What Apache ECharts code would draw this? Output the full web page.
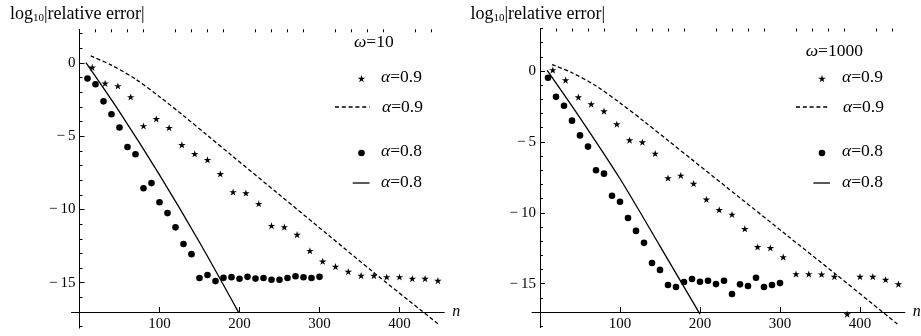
<!DOCTYPE html>
<html>
<head>
<meta charset="utf-8">
<script src="https://cdn.jsdelivr.net/npm/echarts@6/dist/echarts.min.js"></script>
<style>
  html, body { margin: 0; padding: 0; background: #fff; }
  #chart { width: 921px; height: 336px; }
</style>
</head>
<body>
<div id="chart"></div>
<script>
// sample positions
const dotN = [10, 20, 30, 40, 50, 60, 70, 80, 90, 100, 110, 120, 130, 140, 150,
  160, 170, 180, 190, 200, 210, 220, 230, 240, 250, 260, 270, 280, 290, 300];
const starN = [16, 32, 48, 64, 80, 96, 112, 128, 144, 160, 176, 192, 208, 224,
  240, 256, 272, 288, 304, 320, 336, 352, 368, 384, 400, 416, 432, 448];

// omega = 10
const dotsW10 = [-1.06, -1.45, -2.62, -3.5, -4.4, -5.74, -6.23, -8.55, -8.2, -9.51,
  -10.25, -11.22, -12.36, -13.05, -14.68, -14.47, -14.89, -14.67, -14.62, -14.73,
  -14.6, -14.72, -14.68, -14.8, -14.8, -14.68, -14.56, -14.63, -14.68, -14.6];
const starsW10 = [-0.3, -1.39, -1.57, -2.32, -4.3, -3.82, -4.42, -5.59, -6.2, -6.61,
  -7.57, -8.81, -8.88, -9.61, -11.11, -11.2, -11.72, -12.82, -13.54, -13.9,
  -14.25, -14.52, -14.52, -14.61, -14.61, -14.72, -14.72, -14.86];
const dashedW10 = [[14, 0.48], [40, -0.15], [70, -1.1], [100, -2.3], [130, -3.6], [160, -4.95],
  [190, -6.3], [250, -9.0], [310, -11.7], [370, -14.4], [448, -17.8]];
const solidW10 = [[8, 0.02], [50, -3.34], [100, -7.64], [150, -12.24], [199, -17.04]];

// omega = 1000
const dotsW1000 = [-0.47, -1.82, -2.45, -3.5, -4.54, -5.33, -7.0, -7.24, -8.8, -9.22,
  -10.37, -11.28, -12.12, -13.54, -14.03, -15.1, -15.24, -14.88, -14.67, -14.87,
  -14.79, -15.03, -14.79, -15.73, -15.05, -15.17, -14.58, -15.24, -15.1, -14.96];
const starsW1000 = [0.07, -0.64, -1.84, -2.34, -2.83, -3.75, -4.88, -5.02, -5.82, -7.55,
  -7.37, -7.94, -9.06, -9.79, -10.12, -11.13, -12.41, -12.48, -13.12, -14.32,
  -14.32, -14.34, -14.51, -17.15, -14.51, -14.51, -14.72, -15.03];
const dashedW1000 = [[15, 0.45], [40, -0.12], [70, -1.05], [100, -2.25], [130, -3.55], [160, -4.9],
  [190, -6.25], [250, -8.95], [310, -11.65], [370, -14.35], [447, -17.86]];
const solidW1000 = [[9, 0.05], [50, -3.3], [100, -7.6], [150, -12.35], [200, -17.15]];

// ticks
const xTickLabels = [100, 200, 300, 400];
const xMinorTicks = [20, 40, 60, 80, 120, 140, 160, 180, 220, 240, 260, 280, 320, 340, 360, 380, 420, 440];
const yTickLabels = [-15, -10, -5, 0];
const yMinorTicks = [-18, -17, -16, -14, -13, -12, -11, -9, -8, -7, -6, -4, -3, -2, -1, 1, 2, 3];

const FONT = "'Liberation Serif', 'Times New Roman', serif";
const STAR_PTS = [[0, -10], [2.245, -3.09], [9.51, -3.09], [3.633, 1.18], [5.878, 8.09], [0, 3.82],
  [-5.878, 8.09], [-3.633, 1.18], [-9.51, -3.09], [-2.245, -3.09]];
const STAR = 'path://M' + STAR_PTS.map(q => q.join(',')).join('L') + 'Z';
const minus = v => v < 0 ? '\u2212\u2009' + (-v) : String(v);

const grids = [], xAxes = [], yAxes = [], series = [], graphics = [];

function panel(p) {
  const gA = grids.length;
  // grid A: holds the visible x axis at y = -17
  grids.push({left: p.left - 8, width: 372.8, top: p.top, bottom: 24, containLabel: false, outerBoundsMode: 'none'});
  // grid B: holds the data and the y axis
  grids.push({left: p.left, width: 364.8, top: p.top, bottom: p.bottom, containLabel: false, outerBoundsMode: 'none'});
  const xBase = {type: 'value', min: -10, max: 456, splitLine: {show: false}, gridIndex: gA};
  xAxes.push({
    ...xBase,
    axisLine: {onZero: false, lineStyle: {color: '#000', width: 1}},
    axisTick: {inside: true, length: 5, customValues: xTickLabels, lineStyle: {color: '#000'}},
    axisLabel: {customValues: xTickLabels, margin: 5, color: '#000', fontFamily: FONT, fontSize: 15},
    name: 'n', nameLocation: 'end', nameGap: 8,
    nameTextStyle: {fontFamily: FONT, fontSize: 16, fontStyle: 'italic', color: '#000'}
  });
  xAxes.push({
    ...xBase,
    axisLine: {show: false, onZero: false},
    axisTick: {inside: true, length: 3, customValues: xMinorTicks, lineStyle: {color: '#000'}},
    axisLabel: {show: false}
  });
  const xB = xAxes.length;
  xAxes.push({type: 'value', min: 0, max: 456, show: false, gridIndex: gA + 1});
  yAxes.push({type: 'value', min: -17, max: p.ymax, show: false, gridIndex: gA});
  const yB = yAxes.length;
  const yBase = {type: 'value', min: -18.1, max: p.ymax, splitLine: {show: false}, gridIndex: gA + 1, position: 'left'};
  yAxes.push({
    ...yBase,
    axisLine: {show: true, onZero: false, lineStyle: {color: '#000', width: 1}},
    axisTick: {show: true, inside: true, length: 5, customValues: yTickLabels, lineStyle: {color: '#000'}},
    axisLabel: {customValues: yTickLabels, margin: 4, formatter: minus, color: '#000', fontFamily: FONT, fontSize: 15}
  });
  yAxes.push({
    ...yBase,
    axisLine: {show: false, onZero: false},
    axisTick: {show: true, inside: true, length: 3, customValues: yMinorTicks.filter(v => v <= p.ymax), lineStyle: {color: '#000'}},
    axisLabel: {show: false}
  });

  const common = {xAxisIndex: xB, yAxisIndex: yB, silent: true};
  series.push(
    {...common, type: 'scatter', symbol: STAR, symbolSize: [7.5, 7.1],
      itemStyle: {color: '#000', opacity: 1}, data: starN.map((n, i) => [n, p.stars[i]])},
    {...common, type: 'line', symbol: 'none', smooth: 0.3,
      lineStyle: {color: '#000', width: 1.3, type: [4, 2.5]}, data: p.dashed},
    {...common, type: 'scatter', symbol: 'circle', symbolSize: 6.6,
      itemStyle: {color: '#000', opacity: 1}, data: dotN.map((n, i) => [n, p.dots[i]])},
    {...common, type: 'line', symbol: 'none', smooth: 0.3,
      lineStyle: {color: '#000', width: 1.3}, data: p.solid}
  );

  // axis title
  graphics.push({
    type: 'text', x: p.left - 69.5, y: 14,
    style: {
      text: '{a|log}{b|10}{a||relative error|}', verticalAlign: 'middle', fill: '#000',
      rich: {
        a: {fontFamily: FONT, fontSize: 18, lineHeight: 22},
        b: {fontFamily: FONT, fontSize: 11, lineHeight: 12, padding: [9, 0, 0, 0]}
      }
    }
  });
  // legend
  const L = p.legend;
  const rich = {
    i: {fontFamily: FONT, fontSize: 17.5, fontStyle: 'italic'},
    r: {fontFamily: FONT, fontSize: 17.5}
  };
  const label = (x, y, sym, txt) => ({
    type: 'text', x: x, y: y,
    style: {text: '{i|' + sym + '}{r|' + txt + '}', rich: rich, verticalAlign: 'middle', fill: '#000'}
  });
  graphics.push(
    label(L.wx, L.wy, '\u03c9', '=' + p.omega),
    {type: 'polygon', shape: {points: STAR_PTS.map(q => [L.sx + q[0] * 0.39, 79 + q[1] * 0.39])}, style: {fill: '#000'}},
    label(L.tx, 77, '\u03b1', '=0.9'),
    {type: 'line', shape: {x1: L.dx1, y1: 107, x2: L.dx2, y2: 107}, style: {stroke: '#000', lineWidth: 1.3, lineDash: [4, 2.8]}},
    label(L.tx + 1, 107, '\u03b1', '=0.9'),
    {type: 'circle', shape: {cx: L.sx, cy: 153, r: 3.3}, style: {fill: '#000'}},
    label(L.tx, 151, '\u03b1', '=0.8'),
    {type: 'line', shape: {x1: L.lx1, y1: 183, x2: L.dx2, y2: 183}, style: {stroke: '#000', lineWidth: 1.3}},
    label(L.tx, 182, '\u03b1', '=0.8')
  );
}

panel({left: 79.5, top: 29.3, bottom: 7.9, ymax: 2.3, omega: 10,
  dots: dotsW10, stars: starsW10, dashed: dashedW10, solid: solidW10,
  legend: {wx: 354, wy: 42, sx: 361.5, tx: 381, dx1: 335, dx2: 369.5, lx1: 352.7}});
panel({left: 540, top: 28.5, bottom: 8.4, ymax: 3, omega: 1000,
  dots: dotsW1000, stars: starsW1000, dashed: dashedW1000, solid: solidW1000,
  legend: {wx: 805.7, wy: 51, sx: 822, tx: 842, dx1: 796, dx2: 830, lx1: 813.3}});

const chart = echarts.init(document.getElementById('chart'));
chart.setOption({
  animation: false,
  backgroundColor: '#fff',
  grid: grids,
  xAxis: xAxes,
  yAxis: yAxes,
  series: series,
  graphic: graphics
});
</script>
</body>
</html>
